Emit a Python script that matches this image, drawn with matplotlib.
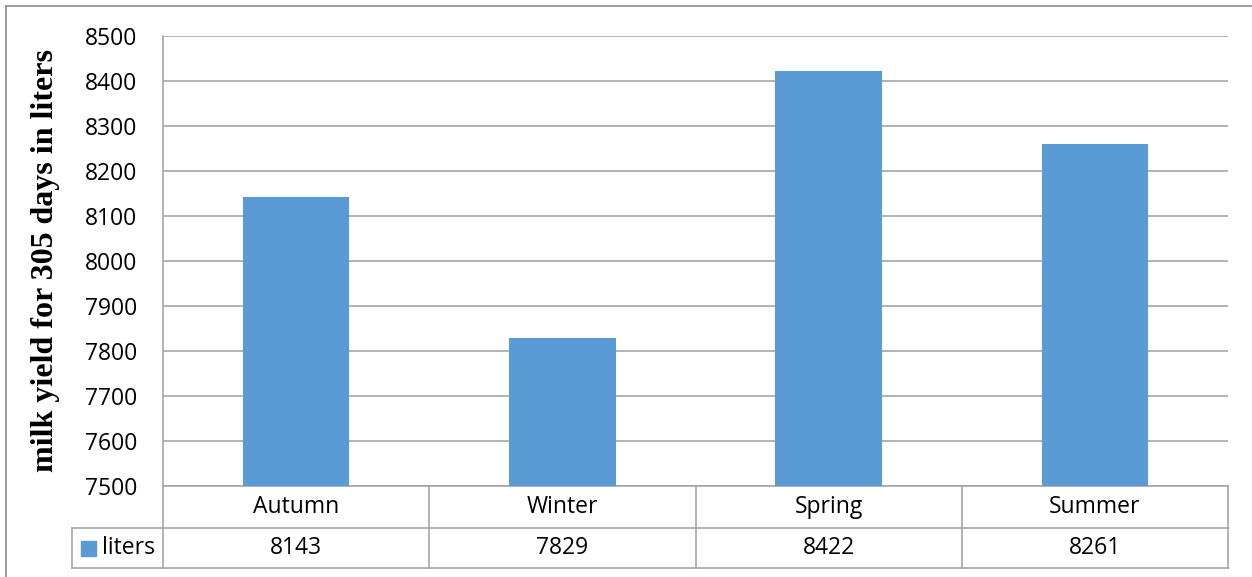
import matplotlib.pyplot as plt
import matplotlib.transforms as mtransforms
from matplotlib.patches import Rectangle

seasons = ['Autumn', 'Winter', 'Spring', 'Summer']
liters = [8143, 7829, 8422, 8261]
yticks = list(range(7500, 8501, 100))
series_name = 'liters'
ylabel = 'milk yield for 305 days in liters'

bar_color = '#5B9BD5'
grid_color = '#A6A6A6'
sans = 'Open Sans'
fs = 16.5

fig = plt.figure(figsize=(12.52, 5.77), dpi=100)
W, H = 1252, 577

# plot area in pixels
px_left, px_right, px_top, px_bottom = 163, 1228, 36, 486
ax = fig.add_axes([px_left / W, 1 - px_bottom / H,
                   (px_right - px_left) / W, (px_bottom - px_top) / H])

x = list(range(len(seasons)))
ax.bar(x, [v - yticks[0] for v in liters], bottom=yticks[0], width=0.4,
       color=bar_color, zorder=3)
ax.set_xlim(-0.5, len(seasons) - 0.5)
ax.set_ylim(yticks[0], yticks[-1])
ax.set_yticks(yticks)
ax.set_yticklabels([str(t) for t in yticks], fontsize=fs, fontfamily=sans)
ax.tick_params(axis='y', length=0, pad=18.5)
ax.set_xticks([])
ax.yaxis.grid(True, color=grid_color, linewidth=1.2, zorder=0)
for s in ['top', 'right', 'bottom']:
    ax.spines[s].set_visible(False)
ax.spines['left'].set_color(grid_color)
ax.spines['left'].set_linewidth(1.2)

fig.text(46 / W, 1 - 261 / H, ylabel, rotation=90, ha='center', va='center',
         fontsize=23, fontweight='bold', fontfamily='Liberation Serif')

# data table below the plot
ph = px_bottom - px_top
r1 = -(528 - px_bottom) / ph
r2 = -(568 - px_bottom) / ph
leg_left = -(px_left - 72) / (px_right - px_left)
tx = mtransforms.blended_transform_factory(ax.transData, ax.transAxes)
lw = 1.2
kw = dict(color=grid_color, linewidth=lw, clip_on=False)
ax.plot([-0.5, len(seasons) - 0.5], [0, 0], transform=tx, **kw)
for yy in [r1, r2]:
    ax.plot([leg_left, 1], [yy, yy], transform=ax.transAxes, **kw)
ax.plot([leg_left, leg_left], [r1, r2], transform=ax.transAxes, **kw)
for i in range(len(seasons) + 1):
    ax.plot([i - 0.5, i - 0.5], [0, r2], transform=tx, **kw)

for i, (s, v) in enumerate(zip(seasons, liters)):
    ax.text(i, r1 / 2, s, transform=tx, ha='center', va='center',
            fontsize=fs, fontfamily=sans)
    ax.text(i, (r1 + r2) / 2, str(v), transform=tx, ha='center', va='center',
            fontsize=fs, fontfamily=sans)

# legend key in the table
key_w = 15 / (px_right - px_left)
key_h = 15 / ph
ax.add_patch(Rectangle((-(px_left - 81) / (px_right - px_left), (r1 + r2) / 2 - key_h / 2),
                       key_w, key_h, transform=ax.transAxes, color=bar_color,
                       clip_on=False))
ax.text(-(px_left - 102) / (px_right - px_left), (r1 + r2) / 2, series_name,
        transform=ax.transAxes, ha='left', va='center', fontsize=fs,
        fontfamily=sans)

# outer chart frame
fig.add_artist(plt.Line2D([6 / W, 6 / W], [1 - 6 / H, 0], color='#8C8C8C',
                          linewidth=1.2, transform=fig.transFigure))
fig.add_artist(plt.Line2D([6 / W, 1], [1 - 6 / H, 1 - 6 / H], color='#8C8C8C',
                          linewidth=1.2, transform=fig.transFigure))

fig.savefig('out.png', dpi=100)
